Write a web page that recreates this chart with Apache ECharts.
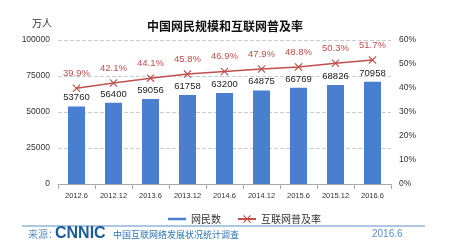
<!DOCTYPE html>
<html><head><meta charset="utf-8">
<script src="https://cdn.jsdelivr.net/npm/echarts@6/dist/echarts.min.js"></script>
<style>html,body{margin:0;padding:0;background:#fff}#c{width:450px;height:251px}</style>
</head><body><div id="c"></div>
<script>
const categories = ['2012.6','2012.12','2013.6','2013.12','2014.6','2014.12','2015.6','2015.12','2016.6'];
const netizens = [53760,56400,59056,61758,63200,64875,66769,68826,70958];
const penetration = [39.9,42.1,44.1,45.8,46.9,47.9,48.8,50.3,51.7];
const leftTicks = [0,25000,50000,75000,100000];
const rightTicks = [0,10,20,30,40,50,60];

const chart = echarts.init(document.getElementById('c'));
const xShape = 'path://M0,1L1,0L5,4L9,0L10,1L6,5L10,9L9,10L5,6L1,10L0,9L4,5Z';
chart.setOption({
  animation:false,
  textStyle:{fontFamily:'Liberation Sans, Noto Sans CJK SC, sans-serif'},
  title:{text:'中国网民规模和互联网普及率',left:'center',top:15,
    textStyle:{fontSize:12,fontWeight:'bold',color:'#111',fontFamily:'Noto Sans CJK SC'}},
  grid:{left:58,right:59,top:40,bottom:67},
  legend:{left:163,top:209,itemGap:16,itemWidth:18,itemHeight:10,
    textStyle:{fontSize:10,color:'#333',fontFamily:'Noto Sans CJK SC'},
    data:[{name:'网民数',icon:'path://M0,4L18,4L18,6.5L0,6.5Z',itemStyle:{color:'#4a7fcf'}},
          {name:'互联网普及率'}]},
  xAxis:{type:'category',data:categories,
    axisLine:{lineStyle:{color:'#aaa'}},axisTick:{show:true,lineStyle:{color:'#aaa'}},
    axisLabel:{fontSize:7.5,color:'#333',margin:8,interval:0}},
  yAxis:[
    {type:'value',min:0,max:100000,interval:25000,name:'万人',nameLocation:'end',nameGap:12,
     nameTextStyle:{fontSize:10,color:'#333',align:'right',padding:[0,6,0,0],fontFamily:'Noto Sans CJK SC'},
     axisLabel:{fontSize:8.5,color:'#333',formatter:v=>leftTicks.includes(v)?String(v):''},
     splitLine:{lineStyle:{color:'#ccc',type:'dashed'}},axisLine:{show:false},axisTick:{show:false}},
    {type:'value',min:0,max:60,interval:10,
     axisLabel:{fontSize:8.5,color:'#333',margin:8,formatter:v=>rightTicks.includes(v)?v+'%':''},
     splitLine:{show:false},axisLine:{show:false},axisTick:{show:false}}
  ],
  series:[
    {name:'网民数',type:'bar',data:netizens,barWidth:17,
     itemStyle:{color:'#4a7fcf'},
     label:{show:true,position:'top',fontSize:9.5,color:'#222',distance:4}},
    {name:'互联网普及率',type:'line',yAxisIndex:1,data:penetration,
     symbol:xShape,symbolSize:8,
     lineStyle:{color:'#c0504d',width:1.5},itemStyle:{color:'#c0504d'},
     label:{show:true,position:'top',fontSize:9.5,color:'#c0504d',distance:6,formatter:p=>p.value+'%'}}
  ],
  graphic:[
    {type:'line',shape:{x1:22,y1:226,x2:425,y2:226},style:{stroke:'#5b8fc7',lineWidth:1}},
    {type:'text',left:28,top:229,style:{text:'来源：',fontSize:10,fill:'#5b8fc7',fontFamily:'Noto Sans CJK SC'}},
    {type:'text',left:55,top:226,style:{text:'CNNIC',fontSize:16,fontWeight:'bold',fill:'#1a5c99',fontFamily:'Liberation Sans'}},
    {type:'text',left:113,top:230,style:{text:'中国互联网络发展状况统计调查',fontSize:9,fill:'#2e75b6',fontFamily:'Noto Sans CJK SC'}},
    {type:'text',left:372,top:229,style:{text:'2016.6',fontSize:10,fill:'#5b8fc7'}}
  ]
});
</script></body></html>
